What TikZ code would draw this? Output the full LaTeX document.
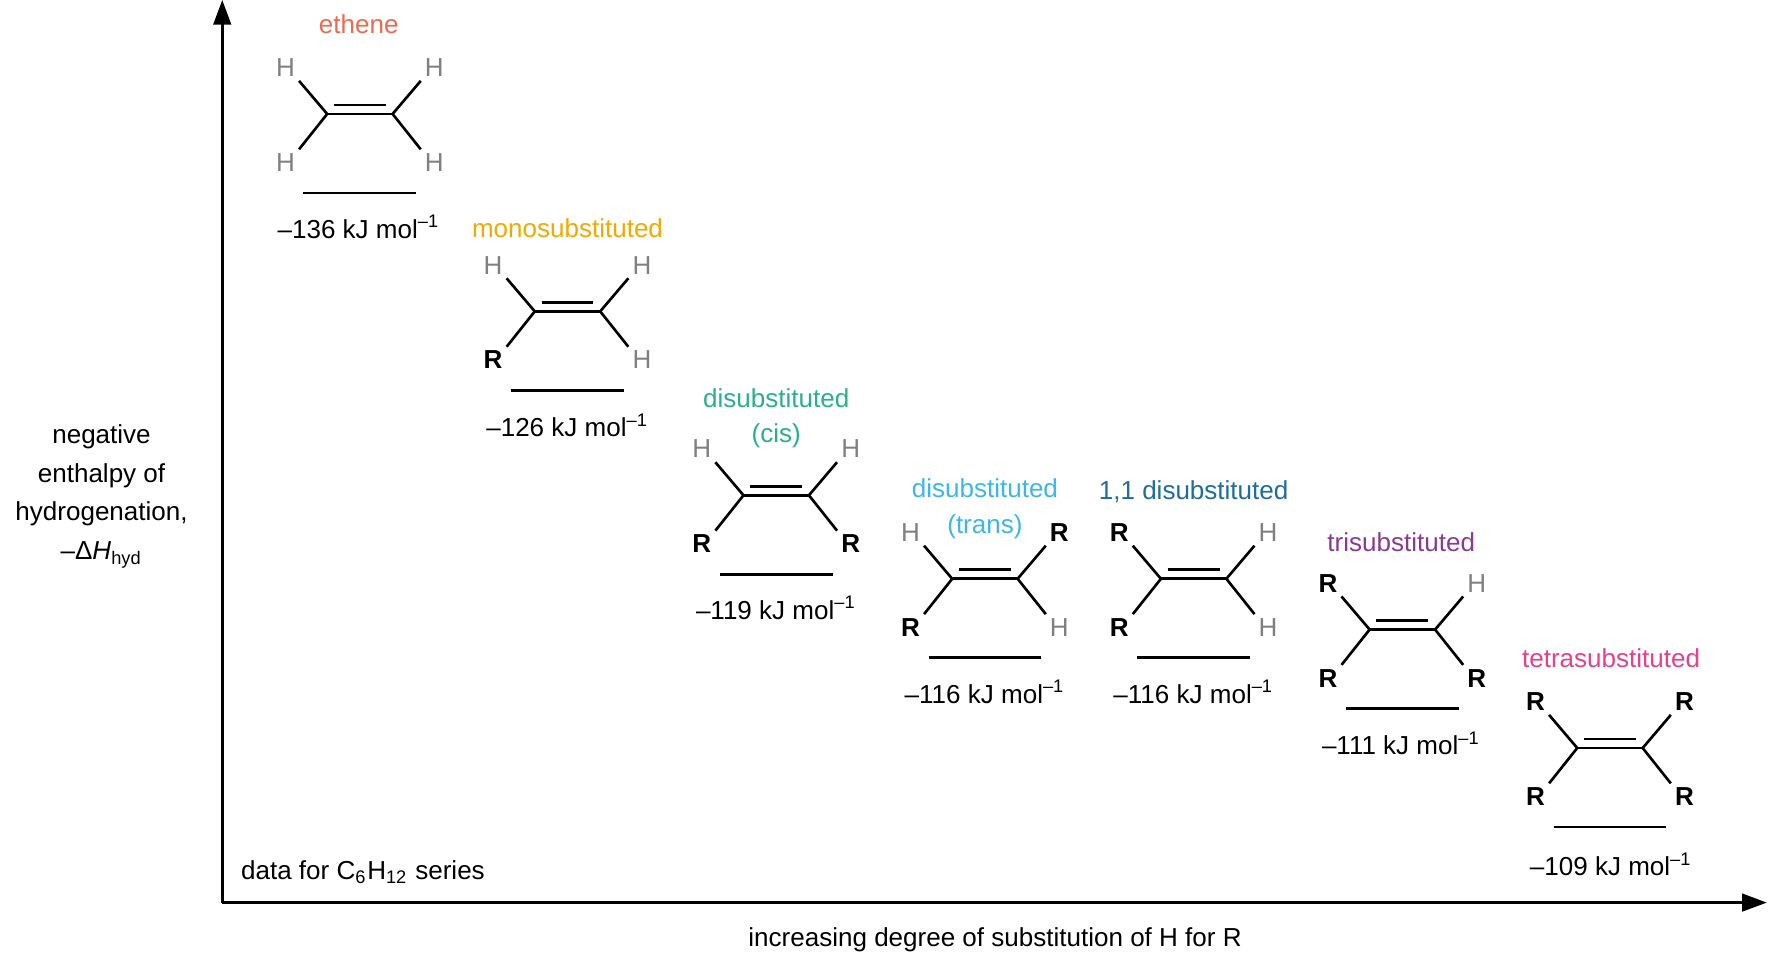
\documentclass[tikz,border=0pt]{standalone}
\usepackage{fontspec}
\setmainfont{Liberation Sans}
\usetikzlibrary{arrows.meta}
\definecolor{cEth}{HTML}{EC6A52}
\definecolor{cMono}{HTML}{F4A900}
\definecolor{cCis}{HTML}{2AB08C}
\definecolor{cTrans}{HTML}{3DB7E9}
\definecolor{cOne}{HTML}{1D6DA0}
\definecolor{cTri}{HTML}{8A3A94}
\definecolor{cTet}{HTML}{E8408A}
\newcommand\Hh{\textcolor{gray}{H}}
\newcommand\Rr{\textbf{R}}
\newcommand\kj[1]{–#1 kJ mol\textsuperscript{–1}}
\tikzset{
  every node/.style={font=\fontsize{7.4}{9}\selectfont, inner sep=1pt},
  bond/.style={line width=0.75pt, line cap=butt},
  lvl/.style={line width=0.75pt},
  ax/.style={line width=0.75pt, -{Triangle[length=7pt,width=5pt]}},
}
% #1 prefix, #2 cx, #3 y, #4 UL, #5 UR, #6 LL, #7 LR
\newcommand\alkene[7]{%
  \coordinate (#1a) at ({#2-29},#3);
  \coordinate (#1b) at ({#2+29},#3);
  \node (#1ul) at ({#2-66},{#3-41}) {#4};
  \node (#1ur) at ({#2+66},{#3-41}) {#5};
  \node (#1ll) at ({#2-66},{#3+43}) {#6};
  \node (#1lr) at ({#2+66},{#3+43}) {#7};
  \draw[bond] (#1a) -- (#1b);
  \draw[bond] ([shift={(6,-8)}]#1a) -- ([shift={(-6,-8)}]#1b);
  \draw[bond] (#1a) -- (#1ul.south east);
  \draw[bond] (#1b) -- (#1ur.south west);
  \draw[bond] (#1a) -- (#1ll.north east);
  \draw[bond] (#1b) -- (#1lr.north west);
  \coordinate (#1l1) at ({#2-50},{#3+70});
  \coordinate (#1l2) at ({#2+50},{#3+70});
  \draw[lvl] (#1l1) -- (#1l2);
}
\begin{document}
\begin{tikzpicture}[x=0.01128cm,y=-0.01128cm]
\useasboundingbox (0,0) rectangle (1568,856);
\coordinate (O) at (197,800);
\coordinate (Ytop) at (197,0);
\coordinate (Xend) at (1566,800);
\draw[ax] (O) -- (Ytop);
\draw[ax] (O) -- (Xend);
\node[align=center] (ylab) at (90,440) {negative\\[2pt]enthalpy of\\[2pt]hydrogenation,\\[2pt]–Δ\textit{H}\textsubscript{hyd}};
\node[anchor=west] (data) at (210,773) {data for C\textsubscript{6}H\textsubscript{12} series};
\node (xlab) at (882,833) {increasing degree of substitution of H for R};

\alkene{e}{319}{101}{\Hh}{\Hh}{\Hh}{\Hh}
\node[text=cEth] (en) at (318,21) {ethene};
\node (ev) at (318,201) {\kj{136}};

\alkene{m}{503}{276}{\Hh}{\Hh}{\Rr}{\Hh}
\node[text=cMono] (mn) at (503,202) {monosubstituted};
\node (mv) at (503,377) {\kj{126}};

\alkene{c}{688}{439}{\Hh}{\Hh}{\Rr}{\Rr}
\node[text=cCis,align=center] (cn) at (688,371) {disubstituted\\[1pt]\hspace*{0pt}(cis)};
\node (cv) at (688,539) {\kj{119}};

\alkene{t}{873}{513}{\Hh}{\Rr}{\Rr}{\Hh}
\node[text=cTrans,align=center] (tn) at (873,451) {disubstituted\\[1pt](trans)};
\node (tv) at (873,613) {\kj{116}};

\alkene{o}{1058}{513}{\Rr}{\Hh}{\Rr}{\Hh}
\node[text=cOne] (on) at (1058,436) {1,1 disubstituted};
\node (ov) at (1058,613) {\kj{116}};

\alkene{r}{1243}{558}{\Rr}{\Hh}{\Rr}{\Rr}
\node[text=cTri] (rn) at (1242,481) {trisubstituted};
\node (rv) at (1242,659) {\kj{111}};

\alkene{q}{1427}{663}{\Rr}{\Rr}{\Rr}{\Rr}
\node[text=cTet] (qn) at (1428,583) {tetrasubstituted};
\node (qv) at (1428,766) {\kj{109}};
\end{tikzpicture}
\end{document}
